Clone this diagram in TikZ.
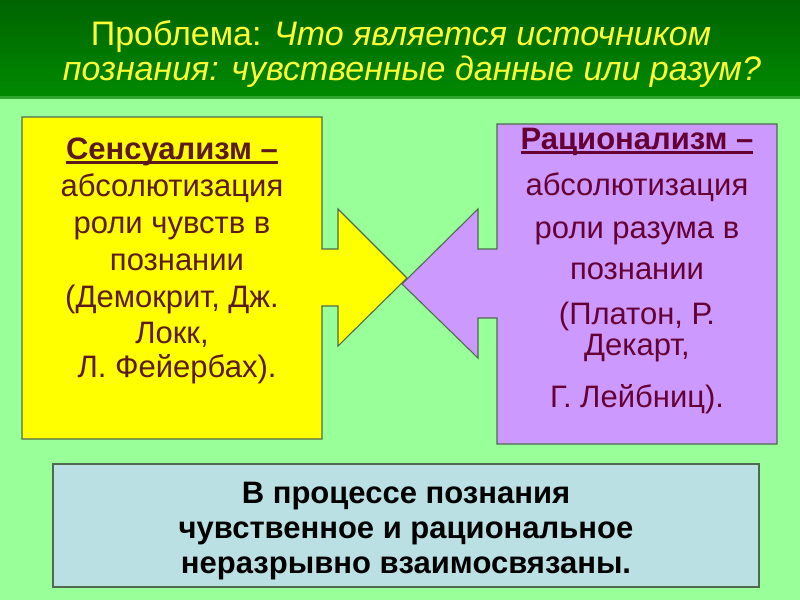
\documentclass[tikz,border=0pt]{standalone}
\usepackage{fontspec}
\setmainfont{Liberation Sans}
\usetikzlibrary{calc}
\definecolor{bggreen}{HTML}{99FF99}
\definecolor{titletop}{HTML}{006400}
\definecolor{titlebot}{HTML}{008A00}
\definecolor{titletext}{HTML}{FFFF33}
\definecolor{titleedge}{HTML}{2FA82F}
\definecolor{sensfill}{HTML}{FFFF00}
\definecolor{ratfill}{HTML}{CC99FF}
\definecolor{botfill}{HTML}{BBE0E3}
\definecolor{edgecol}{HTML}{4F6A4F}
\definecolor{senstext}{HTML}{5C1A1A}
\definecolor{rattext}{HTML}{660033}
\newcommand{\myul}[1]{\setbox0\hbox{#1}\rlap{\rule[-4.5pt]{\wd0}{2.2pt}}\box0}
\tikzset{
  calloutshape/.style={draw=edgecol, line width=1.1pt, line join=miter},
  senscol/.style={anchor=base, inner sep=0pt, text=senstext, font=\fontsize{31}{36}\selectfont},
  ratcol/.style={anchor=base, inner sep=0pt, text=rattext, font=\fontsize{31}{36}\selectfont},
  titleline/.style={anchor=base, inner sep=0pt, text=titletext, font=\fontsize{34}{40}\selectfont},
  botline/.style={anchor=base, inner sep=0pt, text=black, font=\bfseries\fontsize{31}{36}\selectfont}
}
\begin{document}
\begin{tikzpicture}[x=1pt,y=-1pt]
\useasboundingbox (0,0) rectangle (800,600);
\fill[bggreen] (0,0) rectangle (800,600);
% title bar
\shade[top color=titletop, bottom color=titlebot] (0,0) rectangle (800,97);
\fill[titleedge] (0,96) rectangle (800,98.5);
\node[titleline] (t1) at (401,45) {Проблема: \itshape Что является источником};
\node[titleline] (t2) at (412,80) {\itshape познания: чувственные данные или разум?};
% left callout
\filldraw[calloutshape, fill=sensfill]
  (22,117) -- (322,117) -- (322,249) -- (338,249) -- (338,209) -- (407,278)
  -- (338,346) -- (338,306) -- (322,306) -- (322,439) -- (22,439) -- cycle;
% right callout
\filldraw[calloutshape, fill=ratfill]
  (497,124) -- (777,124) -- (777,444) -- (497,444) -- (497,318) -- (478,318)
  -- (478,358) -- (402,284) -- (478,209) -- (478,249) -- (497,249) -- cycle;
% left text
\node[senscol] (s1) at (172,159) {\bfseries\myul{Сенсуализм –}};
\node[senscol] (s2) at (172,196) {абсолютизация};
\node[senscol] (s3) at (172,233) {роли чувств в};
\node[senscol] (s4) at (177,270) {познании};
\node[senscol] (s5) at (172,307) {(Демокрит, Дж.};
\node[senscol] (s6) at (172,343) {Локк,};
\node[senscol] (s7) at (177,377) {Л. Фейербах).};
% right text
\node[ratcol] (r1) at (637,149) {\bfseries\myul{Рационализм –}};
\node[ratcol] (r2) at (637,195) {абсолютизация};
\node[ratcol] (r3) at (637,238) {роли разума в};
\node[ratcol] (r4) at (637,279) {познании};
\node[ratcol] (r5) at (637,324) {(Платон, Р.};
\node[ratcol] (r6) at (637,355) {Декарт,};
\node[ratcol] (r7) at (637,407) {Г. Лейбниц).};
% bottom box
\filldraw[draw=edgecol, line width=1.1pt, fill=botfill] (53,464) rectangle (759,587);
\node[botline] (b1) at (406,503) {В процессе познания};
\node[botline] (b2) at (406,538) {чувственное и рациональное};
\node[botline] (b3) at (406,573) {неразрывно взаимосвязаны.};
\end{tikzpicture}
\end{document}
